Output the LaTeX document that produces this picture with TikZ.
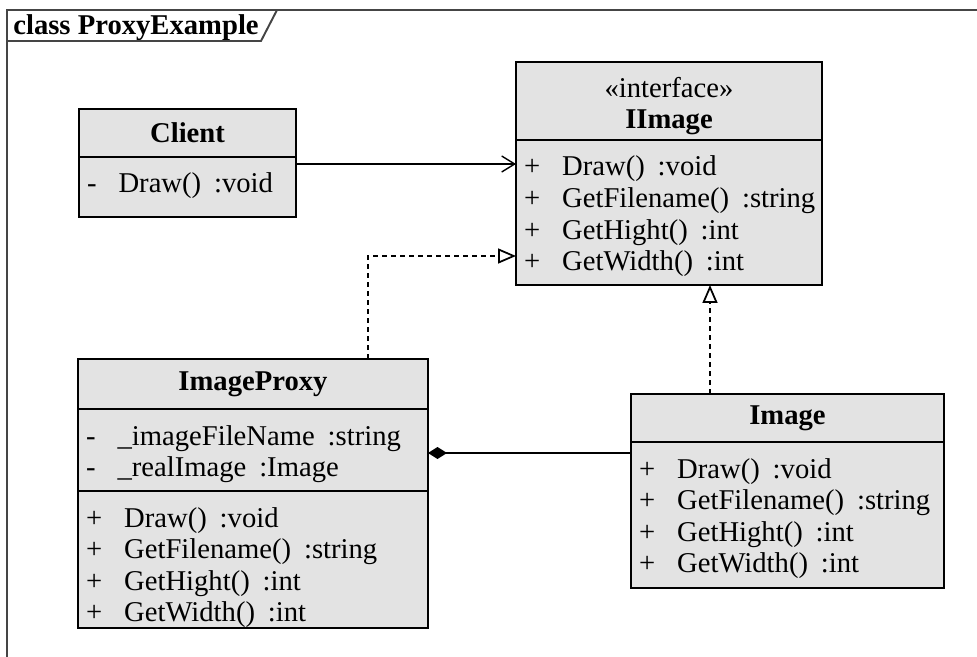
\documentclass[tikz,border=0pt]{standalone}
\usepackage{fontspec}
\setmainfont{Liberation Serif}
\usetikzlibrary{arrows.meta, positioning}
\definecolor{umlfill}{HTML}{E3E3E3}
\definecolor{framegray}{HTML}{454545}
\newcommand{\umlsize}{\fontsize{16.3}{18}\selectfont}
\newcommand{\member}[3]{\mbox{#1\hspace{0.44cm}#2\hspace{0.45em}:#3}}

\begin{document}
\begin{tikzpicture}[
  frameline/.style={draw=framegray, line width=1.1pt},
  classhead/.style={
    draw=black, fill=umlfill, line width=0.8pt, outer sep=0pt, inner sep=0pt,
    minimum width=#1, align=center, font=\umlsize\bfseries,
  },
  classpart/.style={
    draw=black, fill=umlfill, line width=0.8pt, outer sep=0pt,
    inner xsep=0.16cm, inner ysep=0pt, text width=#1, align=left, font=\umlsize,
    text height=0.72cm,
  },
  assoc/.style={-{Straight Barb[length=0.26cm,width=0.32cm]}, line width=0.8pt},
  realize/.style={
    -{Triangle[length=0.36cm,width=0.3cm,fill=white,line width=1pt]}, line width=0.8pt,
    dash pattern=on 0.1cm off 0.08cm,
  },
  compose/.style={{Diamond[length=0.38cm,width=0.24cm]}-, line width=0.8pt},
]
  \useasboundingbox (0,0) rectangle (19.54,-13.14);

  % Frame
  \draw[frameline] (0.14,-13.4) -- (0.14,-0.2) -- (19.8,-0.2);
  \node[font=\umlsize\bfseries, anchor=base west, inner sep=0pt] (title) at (0.26,-0.7) {class ProxyExample};
  \draw[frameline] (0.14,-0.82) -- (5.22,-0.82) -- (5.54,-0.2);

  % Client
  \node[classhead=4.34cm, minimum height=0.96cm, anchor=north west] (clienthead) at (1.58,-2.18) {Client};
  \node[classpart=4.02cm, text depth=0.48cm, below=0pt of clienthead] (clientops) {\member{-}{Draw()}{void}};

  % IImage
  \node[classhead=6.12cm, minimum height=1.56cm, anchor=north west] (iimagehead) at (10.32,-1.24) {{\mdseries\rule{0pt}{0.6cm}«interface»}\\IImage};
  \node[classpart=5.8cm, text depth=2.18cm, below=0pt of iimagehead] (iimageops) {
    \member{+}{Draw()}{void}\\
    \member{+}{GetFilename()}{string}\\
    \member{+}{GetHight()}{int}\\
    \member{+}{GetWidth()}{int}
  };

  % ImageProxy
  \node[classhead=7cm, minimum height=1cm, anchor=north west] (proxyhead) at (1.56,-7.18) {ImageProxy};
  \node[classpart=6.68cm, text depth=0.92cm, below=0pt of proxyhead] (proxyattrs) {
    \member{-}{\_imageFileName}{string}\\
    \member{-}{\_realImage}{Image}
  };
  \node[classpart=6.68cm, text depth=2.02cm, below=0pt of proxyattrs] (proxyops) {
    \member{+}{Draw()}{void}\\
    \member{+}{GetFilename()}{string}\\
    \member{+}{GetHight()}{int}\\
    \member{+}{GetWidth()}{int}
  };

  % Image
  \node[classhead=6.26cm, minimum height=0.96cm, anchor=north west] (imagehead) at (12.62,-7.88) {Image};
  \node[classpart=5.94cm, text depth=2.2cm, below=0pt of imagehead] (imageops) {
    \member{+}{Draw()}{void}\\
    \member{+}{GetFilename()}{string}\\
    \member{+}{GetHight()}{int}\\
    \member{+}{GetWidth()}{int}
  };

  % Relations
  \draw[assoc] ([yshift=-0.14cm]clientops.north east) -- ([yshift=-0.14cm]clientops.north east -| iimageops.west);
  \draw[realize] ([xshift=2.3cm]proxyhead.north) |- ([yshift=0.58cm]iimageops.south west);
  \draw[realize] ([xshift=-1.55cm]imagehead.north) -- ([xshift=-1.55cm]imagehead.north |- iimageops.south);
  \draw[compose] ([yshift=-0.06cm]proxyattrs.east) -- ([yshift=-0.06cm]proxyattrs.east -| imageops.west);
\end{tikzpicture}
\end{document}
